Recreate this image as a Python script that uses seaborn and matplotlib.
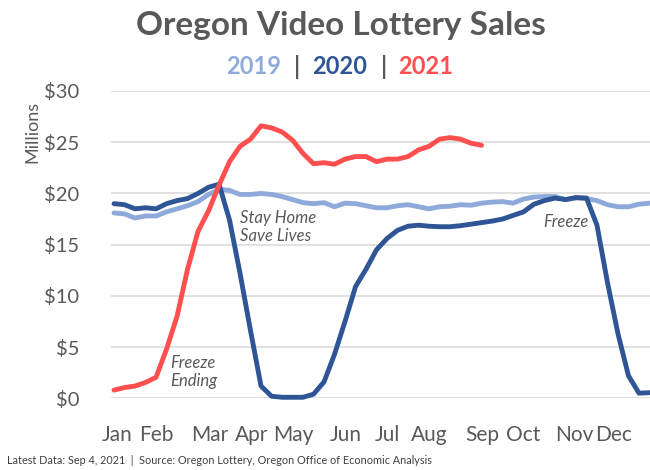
import matplotlib
matplotlib.use("Agg")
import matplotlib.pyplot as plt
import seaborn as sns
import numpy as np
import pandas as pd

# weekly sales, $ millions (week 0 = first week of January)
sales_2019 = [18.1, 18.0, 17.6, 17.8, 17.8, 18.2, 18.5, 18.8, 19.2, 19.9,
              20.4, 20.3, 19.9, 19.9, 20.0, 19.9, 19.7, 19.4, 19.1, 19.0,
              19.1, 18.7, 19.05, 19.0, 18.8, 18.6, 18.6, 18.8, 18.9, 18.7,
              18.5, 18.7, 18.75, 18.9, 18.85, 19.05, 19.15, 19.2, 19.05, 19.45,
              19.65, 19.7, 19.7, 19.4, 19.55, 19.5, 19.3, 18.9, 18.7, 18.7,
              18.95, 19.05]
sales_2020 = [19.0, 18.9, 18.5, 18.6, 18.5, 19.0, 19.3, 19.5, 20.0, 20.6,
              20.9, 17.4, 12.2, 6.6, 1.2, 0.2, 0.1, 0.1, 0.1, 0.4,
              1.6, 4.3, 7.5, 10.9, 12.6, 14.5, 15.6, 16.4, 16.8, 16.9,
              16.8, 16.75, 16.75, 16.85, 17.0, 17.15, 17.3, 17.5, 17.85, 18.2,
              18.95, 19.3, 19.55, 19.4, 19.6, 19.55, 16.9, 11.3, 6.3, 2.2,
              0.5, 0.55]
sales_2021 = [0.8, 1.05, 1.2, 1.55, 2.05, 4.8, 8.0, 12.6, 16.3, 18.3,
              20.8, 23.1, 24.6, 25.3, 26.6, 26.4, 26.0, 25.2, 23.9, 22.9,
              23.0, 22.85, 23.35, 23.6, 23.6, 23.1, 23.35, 23.35, 23.6, 24.25,
              24.6, 25.3, 25.45, 25.3, 24.9, 24.7]

months = ["Jan", "Feb", "Mar", "Apr", "May", "Jun",
          "Jul", "Aug", "Sep", "Oct", "Nov", "Dec"]
month_pos = [0.3, 4.0, 9.1, 13.1, 17.1, 22.1, 26.0, 30.0, 35.1, 39.0, 43.8, 47.6]
y_ticks = [0, 5, 10, 15, 20, 25, 30]

colors = {"2019": "#8eaadb", "2020": "#2f5597", "2021": "#ff4f4f"}
GRAY = "#595959"

sns.set_theme(style="white")
plt.rcParams["font.family"] = ["Lato", "DejaVu Sans"]

fig = plt.figure(figsize=(6.5, 4.7), dpi=100)
ax = fig.add_axes([111 / 650, 1 - 398.3 / 470, 1 - 111 / 650, (398.3 - 91) / 470])

for year, vals in [("2019", sales_2019), ("2020", sales_2020), ("2021", sales_2021)]:
    df = pd.DataFrame({"week": np.arange(len(vals)), "sales": vals})
    sns.lineplot(data=df, x="week", y="sales", ax=ax, color=colors[year],
                 linewidth=3.5, clip_on=False, solid_capstyle="round",
                 solid_joinstyle="round")

ax.set_xlim(-0.29, 51.05)
ax.set_ylim(0, 30)
ax.set_yticks(y_ticks)
ax.set_yticklabels([f"${v}" for v in y_ticks], fontsize=14.5, color=GRAY)
ax.set_xticks(month_pos)
ax.set_xticklabels(months, fontsize=15, color=GRAY)
ax.tick_params(axis="y", length=0, pad=23)
ax.tick_params(axis="x", length=0, pad=19)
ax.grid(axis="y", color="#d9d9d9", linewidth=1.1)
ax.set_axisbelow(True)
for s in ax.spines.values():
    s.set_visible(False)
ax.set_xlabel("")
ax.set_ylabel("")

fig.text(32 / 650, 1 - 132 / 470, "Millions", rotation=90, ha="center",
         va="center", fontsize=13, color=GRAY)

# annotations
ax.text(12.0, 18.4, "Stay Home\nSave Lives", style="italic", fontsize=12,
        color=GRAY, ha="left", va="top", linespacing=1.15)
ax.text(5.35, 4.2, "Freeze\nEnding", style="italic", fontsize=12,
        color=GRAY, ha="left", va="top", linespacing=1.15)
ax.text(40.9, 17.2, "Freeze", style="italic", fontsize=12,
        color=GRAY, ha="left", va="center")

# title and subtitle
fig.text(341 / 650, 1 - 26 / 470, "Oregon Video Lottery Sales", ha="center",
         va="center", fontsize=24, fontweight="bold", color=GRAY)
sub_parts = [("2019", colors["2019"], 254), ("|", GRAY, 297),
             ("2020", colors["2020"], 340), ("|", GRAY, 384),
             ("2021", colors["2021"], 426)]
for txt, c, xp in sub_parts:
    fig.text(xp / 650, 1 - 67 / 470, txt, ha="center", va="center",
             fontsize=17, fontweight="bold", color=c)

fig.text(7 / 650, 1 - 461 / 470,
         "Latest Data: Sep 4, 2021  |  Source: Oregon Lottery, Oregon Office of Economic Analysis",
         ha="left", va="center", fontsize=7.8, color="#404040")

fig.savefig("out.png", dpi=100)
